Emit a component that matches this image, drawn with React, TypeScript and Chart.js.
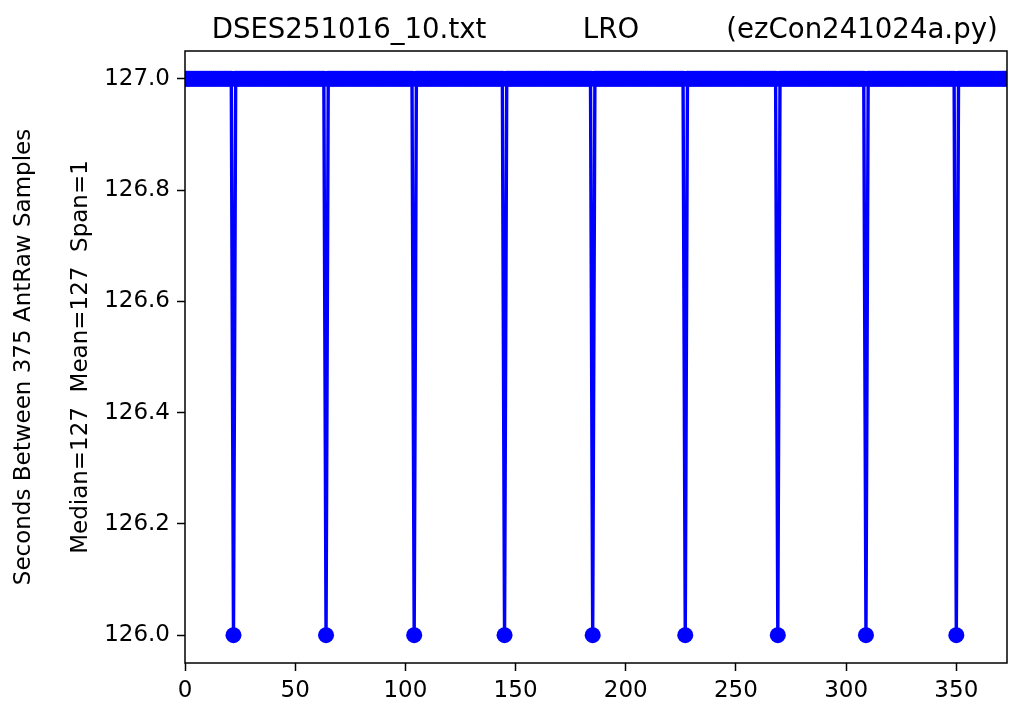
import React, { useEffect, useRef } from "react";
import { Chart, registerables } from "chart.js";

Chart.register(...registerables);

// Seconds between successive AntRaw samples (index = sample interval number)
const SECONDS: number[] = [
  127, 127, 127, 127, 127, 127, 127, 127, 127, 127, 127, 127, 127, 127, 127, 127, 127, 127, 127, 127,
  127, 127, 126, 127, 127, 127, 127, 127, 127, 127, 127, 127, 127, 127, 127, 127, 127, 127, 127, 127,
  127, 127, 127, 127, 127, 127, 127, 127, 127, 127, 127, 127, 127, 127, 127, 127, 127, 127, 127, 127,
  127, 127, 127, 127, 126, 127, 127, 127, 127, 127, 127, 127, 127, 127, 127, 127, 127, 127, 127, 127,
  127, 127, 127, 127, 127, 127, 127, 127, 127, 127, 127, 127, 127, 127, 127, 127, 127, 127, 127, 127,
  127, 127, 127, 127, 126, 127, 127, 127, 127, 127, 127, 127, 127, 127, 127, 127, 127, 127, 127, 127,
  127, 127, 127, 127, 127, 127, 127, 127, 127, 127, 127, 127, 127, 127, 127, 127, 127, 127, 127, 127,
  127, 127, 127, 127, 127, 126, 127, 127, 127, 127, 127, 127, 127, 127, 127, 127, 127, 127, 127, 127,
  127, 127, 127, 127, 127, 127, 127, 127, 127, 127, 127, 127, 127, 127, 127, 127, 127, 127, 127, 127,
  127, 127, 127, 127, 127, 126, 127, 127, 127, 127, 127, 127, 127, 127, 127, 127, 127, 127, 127, 127,
  127, 127, 127, 127, 127, 127, 127, 127, 127, 127, 127, 127, 127, 127, 127, 127, 127, 127, 127, 127,
  127, 127, 127, 127, 127, 127, 127, 126, 127, 127, 127, 127, 127, 127, 127, 127, 127, 127, 127, 127,
  127, 127, 127, 127, 127, 127, 127, 127, 127, 127, 127, 127, 127, 127, 127, 127, 127, 127, 127, 127,
  127, 127, 127, 127, 127, 127, 127, 127, 127, 126, 127, 127, 127, 127, 127, 127, 127, 127, 127, 127,
  127, 127, 127, 127, 127, 127, 127, 127, 127, 127, 127, 127, 127, 127, 127, 127, 127, 127, 127, 127,
  127, 127, 127, 127, 127, 127, 127, 127, 127, 126, 127, 127, 127, 127, 127, 127, 127, 127, 127, 127,
  127, 127, 127, 127, 127, 127, 127, 127, 127, 127, 127, 127, 127, 127, 127, 127, 127, 127, 127, 127,
  127, 127, 127, 127, 127, 127, 127, 127, 127, 127, 126, 127, 127, 127, 127, 127, 127, 127, 127, 127,
  127, 127, 127, 127, 127, 127, 127, 127, 127, 127, 127, 127, 127, 127,
];

const X_TICKS: number[] = [0, 50, 100, 150, 200, 250, 300, 350];
const Y_TICKS: number[] = [126.0, 126.2, 126.4, 126.6, 126.8, 127.0];
const X_MIN = 0;
const X_MAX = 373;
const Y_MIN = 125.95;
const Y_MAX = 127.05;

const TITLE_PARTS: string[] = ["DSES251016_10.txt", "LRO", "(ezCon241024a.py)"];
const Y_LABEL_OUTER = "Seconds Between 375 AntRaw Samples";
const Y_LABEL_INNER = "Median=127  Mean=127  Span=1";

const FONT = "'DejaVu Sans', sans-serif";
const BLUE = "#0000ff";

const decorPlugin = {
  id: "decor",
  afterDraw(chart: any) {
    const ctx = chart.ctx as CanvasRenderingContext2D;
    const { left, top, right, bottom } = chart.chartArea;
    ctx.save();
    // frame
    ctx.strokeStyle = "#000";
    ctx.lineWidth = 1.5;
    ctx.strokeRect(left, top, right - left, bottom - top);
    // title
    ctx.fillStyle = "#000";
    ctx.font = `27.6px ${FONT}`;
    ctx.textBaseline = "alphabetic";
    ctx.textAlign = "center";
    const titleX = [349, 611, 862];
    TITLE_PARTS.forEach((t, i) => ctx.fillText(t, titleX[i], 38));
    // y labels (rotated)
    ctx.font = `23px ${FONT}`;
    const cy = (top + bottom) / 2;
    ctx.save();
    ctx.translate(30, cy);
    ctx.rotate(-Math.PI / 2);
    ctx.fillText(Y_LABEL_OUTER, 0, 0);
    ctx.restore();
    ctx.save();
    ctx.translate(87, cy);
    ctx.rotate(-Math.PI / 2);
    ctx.fillText(Y_LABEL_INNER, 0, 0);
    ctx.restore();
    ctx.restore();
  },
};

export default function App() {
  const ref = useRef<HTMLCanvasElement | null>(null);

  useEffect(() => {
    if (!ref.current) return;
    const data = SECONDS.map((v, i) => ({ x: i, y: v }));
    const chart = new Chart(ref.current, {
      type: "line",
      data: {
        datasets: [
          {
            data,
            borderColor: BLUE,
            backgroundColor: BLUE,
            borderWidth: 3.4,
            pointRadius: 8,
            pointHoverRadius: 8,
            pointBorderWidth: 0,
            pointBackgroundColor: BLUE,
            tension: 0,
            clip: 0,
          } as any,
        ],
      },
      options: {
        animation: false,
        responsive: false,
        events: [],
        layout: { padding: { top: 51, right: 17, left: 0, bottom: 0 } },
        plugins: {
          legend: { display: false },
          title: { display: false },
          tooltip: { enabled: false },
        },
        scales: {
          x: {
            type: "linear",
            min: X_MIN,
            max: X_MAX,
            afterBuildTicks: (s: any) => {
              s.ticks = X_TICKS.map((v) => ({ value: v }));
            },
            afterFit: (s: any) => {
              s.height = 57;
            },
            border: { display: false },
            grid: {
              display: true,
              drawOnChartArea: false,
              drawTicks: true,
              tickLength: 8,
              tickWidth: 1.5,
              tickColor: "#000",
            },
            ticks: {
              color: "#000",
              font: { family: "DejaVu Sans", size: 23 },
              padding: 6,
              maxRotation: 0,
              autoSkip: false,
              callback: (v: any) => String(v),
            },
          },
          y: {
            type: "linear",
            min: Y_MIN,
            max: Y_MAX,
            afterBuildTicks: (s: any) => {
              s.ticks = Y_TICKS.map((v) => ({ value: v }));
            },
            afterFit: (s: any) => {
              s.width = 185;
            },
            border: { display: false },
            grid: {
              display: true,
              drawOnChartArea: false,
              drawTicks: true,
              tickLength: 8,
              tickWidth: 1.5,
              tickColor: "#000",
            },
            ticks: {
              color: "#000",
              font: { family: "DejaVu Sans", size: 23 },
              padding: 7,
              autoSkip: false,
              callback: (v: any) => Number(v).toFixed(1),
            },
          },
        },
      },
      plugins: [decorPlugin],
    });
    return () => chart.destroy();
  }, []);

  return (
    <div style={{ position: "absolute", left: 0, top: 0, width: 1024, height: 720, background: "#fff" }}>
      <canvas ref={ref} width={1024} height={720} style={{ width: 1024, height: 720, display: "block" }} />
    </div>
  );
}
